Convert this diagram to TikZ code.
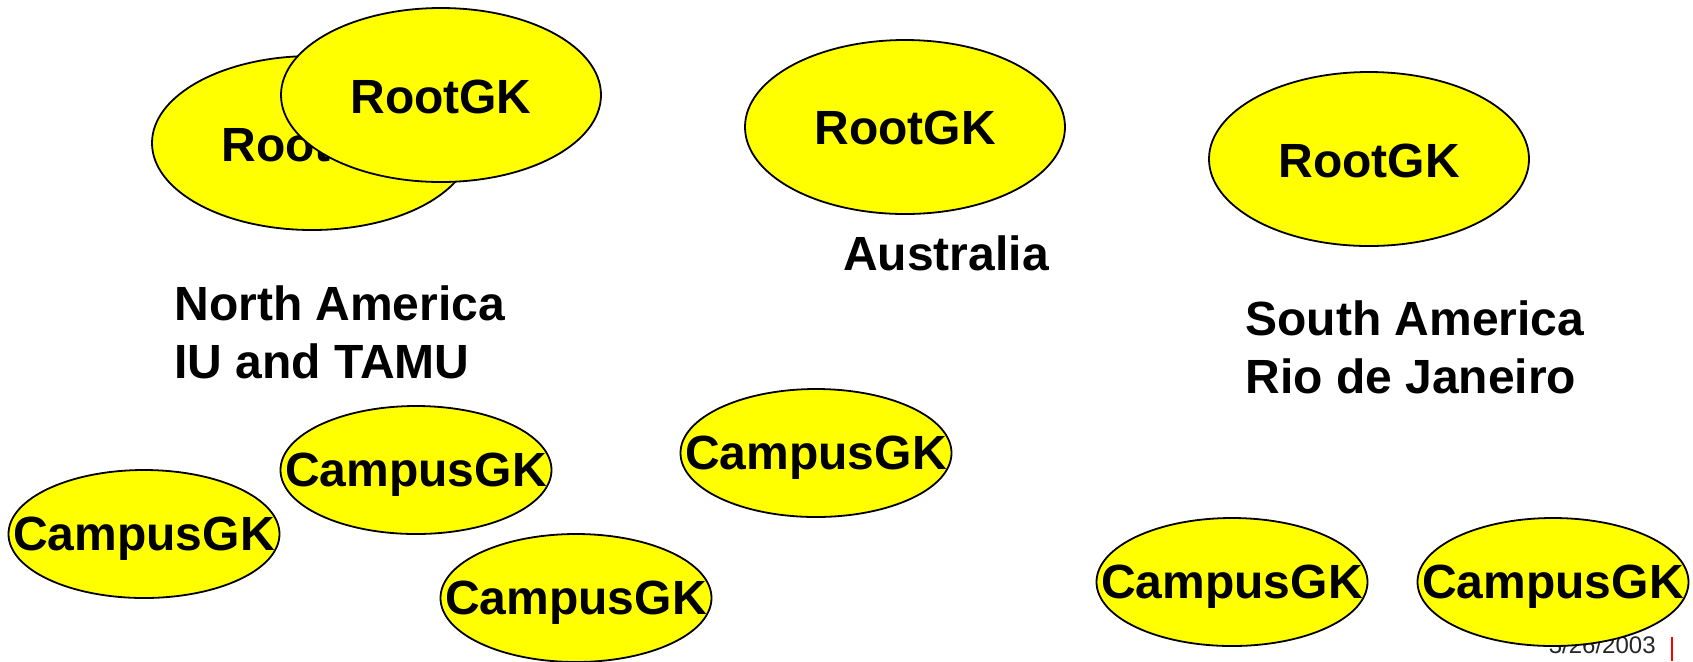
\documentclass[tikz,border=0pt]{standalone}
\usepackage{fontspec}
\setmainfont{Liberation Sans}
\usetikzlibrary{shapes.geometric}
\definecolor{gkyellow}{RGB}{255,255,0}
\tikzset{
  rootgk/.style={ellipse, draw=black, line width=0.9pt, fill=gkyellow, minimum width=160pt, minimum height=87pt, inner sep=0pt},
  campusgk/.style={ellipse, draw=black, line width=0.9pt, fill=gkyellow, minimum width=135.5pt, minimum height=64pt, inner sep=0pt},
  gktext/.style={font=\fontsize{24}{29}\selectfont\bfseries, inner sep=0pt, text depth=0pt},
  region/.style={font=\fontsize{24}{29}\selectfont\bfseries, inner sep=0pt, anchor=base west},
  datetext/.style={font=\fontsize{12}{14}\selectfont, inner sep=0pt, anchor=base east, text=black!85}
}
\begin{document}
\begin{tikzpicture}[x=0.5pt, y=-0.5pt]
\useasboundingbox (0,0) rectangle (1693,661);
% North America
\node[rootgk] (nab) at (312,143) {};
\node[gktext] (nabt) at (312,145) {RootGK};
\node[rootgk] (naf) at (441,95) {};
\node[gktext] (naft) at (441,97) {RootGK};
% Australia
\node[rootgk] (au) at (905,127) {};
\node[gktext] (aut) at (905,128) {RootGK};
% South America
\node[rootgk] (sa) at (1369,159) {};
\node[gktext] (sat) at (1369,161) {RootGK};
% labels
\node[font=\fontsize{24}{29}\selectfont\bfseries, inner sep=0pt, anchor=base] (aul) at (946,270) {Australia};
\node[region] (nal1) at (174,320) {North America};
\node[region] (nal2) at (174,378) {IU and TAMU};
\node[region] (sal1) at (1245,335) {South America};
\node[region] (sal2) at (1245,393) {Rio de Janeiro};
% date and mark
\node[datetext] (date) at (1656,653) {3/26/2003};
\coordinate (m1) at (1672,637);
\coordinate (m2) at (1672,661);
\draw[red, line width=0.7pt] (m1) -- (m2);
% campus gatekeepers
\node[campusgk] (c1) at (144,534) {};
\node[gktext] (c1t) at (144,534) {CampusGK};
\node[campusgk] (c2) at (416,470) {};
\node[gktext] (c2t) at (416,470) {CampusGK};
\node[campusgk] (c3) at (816,453) {};
\node[gktext] (c3t) at (816,453) {CampusGK};
\node[campusgk] (c4) at (576,598) {};
\node[gktext] (c4t) at (576,598) {CampusGK};
\node[campusgk] (c5) at (1232,582) {};
\node[gktext] (c5t) at (1232,582) {CampusGK};
\node[campusgk] (c6) at (1553,582) {};
\node[gktext] (c6t) at (1553,582) {CampusGK};
\end{tikzpicture}
\end{document}
